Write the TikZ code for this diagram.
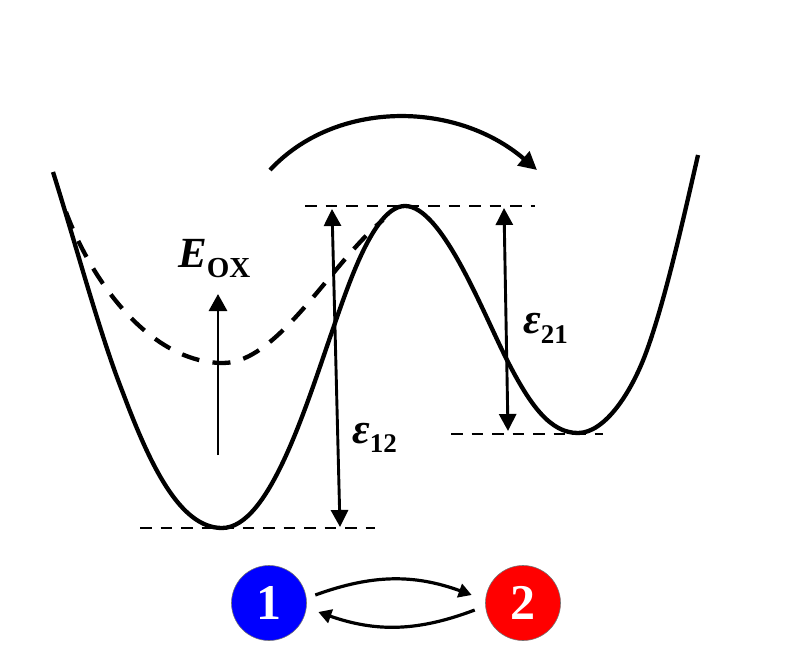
\documentclass[tikz,border=0pt]{standalone}
\usepackage{fontspec}
\setmainfont{Liberation Serif}
\usetikzlibrary{arrows.meta}

\begin{document}
\begin{tikzpicture}[x=1pt, y=-1pt]
        % ================= styles =================
        \tikzset{
            % potential curves
            well_curve/.style={line width=4.3pt, black, line join=round},
            shift_curve/.style={line width=4.3pt, black, dash pattern=on 18pt off 13.4pt},
            % level lines
            level_line/.style={line width=2.9pt, black, dash pattern=on 11.5pt off 9pt},
            % arrows
            gap_arrow/.style={line width=2.9pt, black, {Triangle[length=17pt, width=17pt]}-{Triangle[length=17pt, width=17pt]}},
            up_arrow/.style={line width=2.9pt, black, -{Triangle[length=17pt, width=18pt]}},
            hop_arrow/.style={line width=4.2pt, black, -{Triangle[length=18pt, width=18pt]}},
            site_arrow/.style={line width=3.2pt, black, -{Triangle[length=13pt, width=14pt]}},
            % site circles
            site/.style={circle, draw=black!55, line width=0.6pt, minimum size=75pt, inner sep=0pt, text=white, font=\fontsize{50}{50}\selectfont\bfseries},
            label_text/.style={inner sep=0pt, font=\fontsize{43}{43}\selectfont\bfseries\itshape}
        }
        \path[use as bounding box] (0,0) rectangle (791,671);

        % ================= curves =================
        \draw[well_curve] (53,172) .. controls (76,245) and (100,335) .. (123,393)
            .. controls (150,465) and (180,528) .. (222,528)
            .. controls (270,528) and (307,403) .. (335,323)
            .. controls (350,280) and (375,206) .. (405,206)
            .. controls (442,206) and (483,313) .. (507,360)
            .. controls (530,405) and (550,433) .. (578,433)
            .. controls (605,433) and (632,392) .. (647,350)
            .. controls (665,300) and (682,225) .. (698,155);
        \draw[shift_curve] (66,212) .. controls (95,290) and (155,363) .. (223,363)
            .. controls (278,363) and (332,262) .. (383,220);

        % ================= levels =================
        \coordinate (top_l) at (305,206);
        \coordinate (top_r) at (535,206);
        \coordinate (mid_l) at (451,434);
        \coordinate (mid_r) at (603,434);
        \coordinate (low_l) at (140,528);
        \coordinate (low_r) at (375,528);
        \draw[level_line] (top_l) -- (top_r);
        \draw[level_line] (mid_l) -- (mid_r);
        \draw[level_line] (low_l) -- (low_r);

        % ================= arrows =================
        \coordinate (g1a) at (332,209);
        \coordinate (g1b) at (340,527);
        \coordinate (g2a) at (504,208);
        \coordinate (g2b) at (508,431);
        \coordinate (ox_a) at (218,455);
        \coordinate (ox_b) at (218,294);
        \coordinate (hop_a) at (270,170);
        \coordinate (hop_b) at (537,170);
        \draw[gap_arrow] (g1a) -- (g1b);
        \draw[gap_arrow] (g2a) -- (g2b);
        \draw[up_arrow] (ox_a) -- (ox_b);
        \draw[hop_arrow] (hop_a) .. controls (335,100) and (455,100) .. (hop_b);

        % ================= labels =================
        \node[label_text, anchor=base west] (e_ox) at (178,267) {E\raisebox{-10pt}{\upshape\fontsize{29}{29}\selectfont OX}};
        \node[label_text, anchor=base west] (e_12) at (352,443) {ε\raisebox{-9pt}{\upshape\fontsize{27}{27}\selectfont 12}};
        \node[label_text, anchor=base west] (e_21) at (523,333) {ε\raisebox{-10pt}{\upshape\fontsize{27}{27}\selectfont 21}};

        % ================= sites =================
        \node[site, fill=blue] (s1) at (269,603) {1};
        \node[site, fill=red] (s2) at (523,603) {2};
        \draw[site_arrow] ([xshift=8.5pt, yshift=8pt]s1.east) to[bend left=20] ([xshift=-13.5pt, yshift=8pt]s2.west);
        \draw[site_arrow] ([xshift=-10.5pt, yshift=-7pt]s2.west) to[bend left=20] ([xshift=11.5pt, yshift=-9pt]s1.east);
\end{tikzpicture}
\end{document}
